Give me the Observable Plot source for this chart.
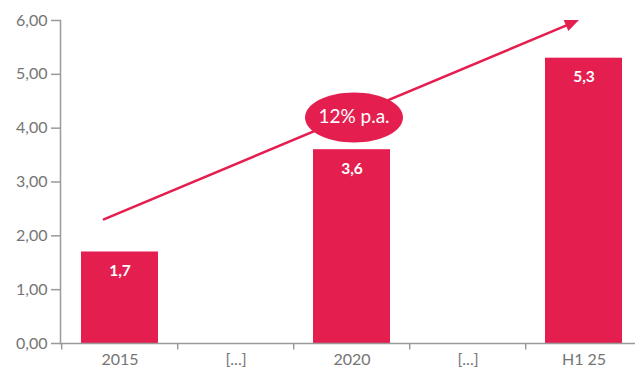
<!DOCTYPE html>
<html>
<head>
<meta charset="utf-8">
<script src="https://cdn.jsdelivr.net/npm/d3@7"></script>
<script src="https://cdn.jsdelivr.net/npm/@observablehq/plot@0.6"></script>
<style>
  html, body { margin: 0; padding: 0; background: #fff; }
  #chart svg { display: block; }
</style>
</head>
<body>
<div id="chart"></div>
<script>
// ---- data ----
const categories = ["2015", "gap1", "2020", "gap2", "H1 25"];
const categoryLabels = ["2015", "[...]", "2020", "[...]", "H1 25"];
const barYears = ["2015", "2020", "H1 25"];
const barValues = [1.7, 3.6, 5.3];
const barLabels = ["1,7", "3,6", "5,3"];
const yTicks = [0, 1, 2, 3, 4, 5, 6];
const cagrLabel = "12% p.a.";
const cagrAnchor = {x: "2020", y: 4.2};
const trend = {x1: "2015", y1: 2.385, x2: "H1 25", y2: 6.0};

// ---- styles ----
const RED = "#e41e4f";
const GRAY = "#9a9a9a";
const TEXT = "#757575";
const FONT = "Lato, 'Open Sans', sans-serif";

const bars = barYears.map((x, i) => ({x, y: barValues[i], label: barLabels[i]}));
const labelOf = Object.fromEntries(categories.map((c, i) => [c, categoryLabels[i]]));

const ellipse = {
  draw(ctx) {
    const rx = 49, ry = 25, k = 0.5523;
    ctx.moveTo(rx, 0);
    ctx.bezierCurveTo(rx, k * ry, k * rx, ry, 0, ry);
    ctx.bezierCurveTo(-k * rx, ry, -rx, k * ry, -rx, 0);
    ctx.bezierCurveTo(-rx, -k * ry, -k * rx, -ry, 0, -ry);
    ctx.bezierCurveTo(k * rx, -ry, rx, -k * ry, rx, 0);
    ctx.closePath();
  }
};
const head = {
  draw(ctx) {
    ctx.moveTo(1, 0);
    ctx.lineTo(-13, -6);
    ctx.lineTo(-13, 6);
    ctx.closePath();
  }
};

const xRange = [60, 643];
const step = (xRange[1] - xRange[0]) / categories.length;

const chart = Plot.plot({
  width: 635,
  height: 372,
  marginLeft: 60,
  marginRight: 0,
  marginTop: 20,
  marginBottom: 29,
  style: {fontFamily: FONT, background: "#fff"},
  x: {domain: categories, range: xRange, paddingInner: 0.34, paddingOuter: 0.17},
  y: {domain: [0, 6]},
  marks: [
    Plot.barY(bars, {x: "x", y: "y", fill: RED}),
    Plot.frame({anchor: "left", stroke: GRAY, strokeWidth: 1.5}),
    Plot.frame({anchor: "bottom", stroke: GRAY, strokeWidth: 1.5}),
    Plot.ruleX(categories, {x: d => d, y1: 0, y2: -0.12, dx: -step / 2, stroke: GRAY, strokeWidth: 1.5}),
    Plot.axisY({ticks: yTicks, tickSize: 9, tickPadding: 4, stroke: GRAY, strokeWidth: 1.5,
      tickFormat: d => d.toFixed(2).replace(".", ","), fontSize: 16, fill: TEXT, label: null}),
    Plot.axisX({tickSize: 0, tickPadding: 10, tickFormat: d => labelOf[d], fontSize: 16, fill: TEXT, label: null}),
    Plot.text(bars, {x: "x", y: "y", text: "label", dy: 19, fill: "#fff", fontSize: 15.5, fontWeight: "bold"}),
    Plot.arrow([trend], {x1: "x1", y1: "y1", x2: "x2", y2: "y2", dx: -6, stroke: RED, strokeWidth: 2.5,
      headLength: 0, insetStart: -11, insetEnd: 6}),
    Plot.dot([trend], {x: "x2", y: "y2", dx: -6, symbol: head, r: 8, fill: RED, stroke: "none", rotate: -22.6}),
    Plot.dot([cagrAnchor], {x: "x", y: "y", dx: 2, symbol: ellipse, r: 10, fill: RED, stroke: "none"}),
    Plot.text([cagrAnchor], {x: "x", y: "y", dx: 2, text: () => cagrLabel, fill: "#fff", fontSize: 19})
  ]
});
document.getElementById("chart").append(chart);
</script>
</body>
</html>
